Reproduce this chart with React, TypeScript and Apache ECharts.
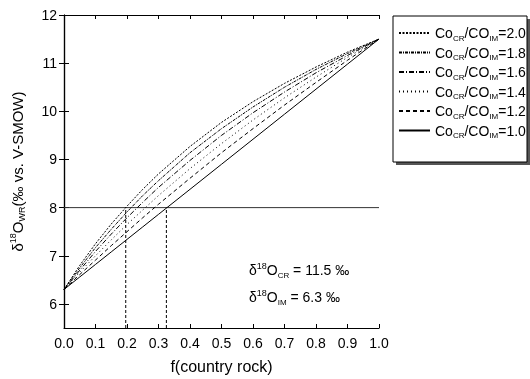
import React, { useEffect, useRef } from "react";
import * as echarts from "echarts";

// f (country rock) sample positions
const fValues = [0, 0.05, 0.1, 0.15, 0.2, 0.25, 0.3, 0.4, 0.5, 0.6, 0.7, 0.8, 0.9, 1.0];
// δ18O_WR
const ratio20 = [6.3, 6.8, 7.25, 7.66, 8.03, 8.38, 8.7, 9.27, 9.77, 10.2, 10.58, 10.92, 11.23, 11.5];
const ratio18 = [6.3, 6.75, 7.17, 7.55, 7.91, 8.25, 8.56, 9.14, 9.64, 10.09, 10.5, 10.87, 11.2, 11.5];
const ratio16 = [6.3, 6.7, 7.09, 7.45, 7.79, 8.11, 8.42, 8.98, 9.5, 9.97, 10.4, 10.8, 11.16, 11.5];
const ratio14 = [6.3, 6.66, 7.0, 7.33, 7.65, 7.95, 8.25, 8.81, 9.33, 9.82, 10.28, 10.71, 11.12, 11.5];
const ratio12 = [6.3, 6.61, 6.91, 7.21, 7.5, 7.79, 8.07, 8.61, 9.14, 9.64, 10.13, 10.6, 11.06, 11.5];
const ratio10 = [6.3, 6.56, 6.82, 7.08, 7.34, 7.6, 7.86, 8.38, 8.9, 9.42, 9.94, 10.46, 10.98, 11.5];

const seriesNames = ["2.0", "1.8", "1.6", "1.4", "1.2", "1.0"];
const seriesValues = [ratio20, ratio18, ratio16, ratio14, ratio12, ratio10];
const seriesDash: any[] = [[2, 1.5], [3, 1, 1, 1], [5, 2, 1, 2], [1, 3], [4, 3], "solid"];

// reference lines
const refLevel = 8;
const refCross = [0.196, 0.325];
const yMin = 5.5;
const yMax = 12;
const yTicks = [6, 7, 8, 9, 10, 11, 12];

const FONT = "Liberation Sans, Arial, sans-serif";

export default function App() {
  const ref = useRef<HTMLDivElement>(null);
  useEffect(() => {
    if (!ref.current) return;
    const chart = echarts.init(ref.current, null, { renderer: "svg" });
    const lineSeries = seriesNames.map((n, i) => ({
      name: n,
      type: "line",
      data: fValues.map((f, j) => [f, seriesValues[i][j]]),
      symbol: "none",
      z: 3,
      lineStyle: { color: "#000", width: 1, type: seriesDash[i] },
      itemStyle: { color: "#000" },
    }));
    const refSeries = [
      {
        name: "hline",
        type: "line",
        data: [[0, refLevel], [1, refLevel]],
        symbol: "none",
        lineStyle: { color: "#333", width: 1 },
        z: 2,
      },
      ...refCross.map((x, i) => ({
        name: "vline" + i,
        type: "line",
        data: [[x, yMin], [x, refLevel]],
        symbol: "none",
        lineStyle: { color: "#000", width: 1, type: [3, 2] },
        z: 2,
      })),
    ];
    const richSmall = {
      a: { fontSize: 14, fontFamily: FONT, color: "#000", lineHeight: 18 },
      s: { fontSize: 8, fontFamily: FONT, color: "#000", lineHeight: 9, verticalAlign: "bottom" },
    };
    const richAnn = {
      a: { fontSize: 14, fontFamily: FONT, fill: "#000", color: "#000", lineHeight: 18 },
      sup: { fontSize: 9, fontFamily: FONT, fill: "#000", color: "#000", lineHeight: 10, verticalAlign: "top" },
      sub: { fontSize: 8, fontFamily: FONT, fill: "#000", color: "#000", lineHeight: 9, verticalAlign: "bottom" },
    };
    const axisCommon = {
      axisLine: { show: true, lineStyle: { color: "#000", width: 1.2 } },
      splitLine: { show: false },
    };
    chart.setOption({
      animation: false,
      grid: { left: 62, right: 151, top: 15, bottom: 49, containLabel: false },
      xAxis: [
        {
          type: "value",
          min: 0,
          max: 1,
          interval: 0.1,
          ...axisCommon,
          axisTick: { inside: true, length: 4, lineStyle: { color: "#000" } },
          axisLabel: {
            color: "#000",
            fontSize: 14,
            fontFamily: FONT,
            margin: 8,
            formatter: (v: number) => v.toFixed(1),
          },
          name: "f(country rock)",
          nameLocation: "middle",
          nameGap: 30,
          nameTextStyle: { color: "#000", fontSize: 16, fontFamily: FONT },
        },
        {
          type: "value",
          position: "top",
          min: 0,
          max: 1,
          interval: 0.1,
          ...axisCommon,
          axisTick: { inside: true, length: 4, lineStyle: { color: "#000" } },
          axisLabel: { show: false },
        },
      ],
      yAxis: [
        {
          type: "value",
          min: yMin,
          max: yMax,
          ...axisCommon,
          axisTick: { inside: true, length: 5, customValues: yTicks, lineStyle: { color: "#000" } },
          axisLabel: {
            color: "#000",
            fontSize: 14,
            fontFamily: FONT,
            margin: 7,
            customValues: yTicks,
          },
          name: "{a|δ}{sup|18}{a|O}{sub|WR}{a|(‰ vs. V-SMOW)}",
          nameLocation: "middle",
          nameRotate: 90,
          nameGap: 38,
          nameTextStyle: {
            color: "#000",
            fontSize: 15,
            fontFamily: FONT,
            rich: {
              a: { fontSize: 15, fontFamily: FONT, color: "#000", lineHeight: 18 },
              sup: { fontSize: 9, fontFamily: FONT, color: "#000", lineHeight: 10, verticalAlign: "top" },
              sub: { fontSize: 9, fontFamily: FONT, color: "#000", lineHeight: 9, verticalAlign: "bottom" },
            },
          },
        },
        {
          type: "value",
          position: "right",
          min: yMin,
          max: yMax,
          ...axisCommon,
          axisTick: { inside: true, length: 5, customValues: yTicks, lineStyle: { color: "#000" } },
          axisLabel: { show: false },
        },
      ],
      legend: {
        data: seriesNames,
        orient: "vertical",
        left: 398,
        top: 26,
        itemGap: 3.5,
        itemWidth: 31,
        itemHeight: 17.5,
        padding: 0,
        z: 10,
        itemStyle: { opacity: 0, borderWidth: 0 },
        formatter: (n: string) => `{a|Co}{s|CR}{a|/CO}{s|IM}{a|=${n}}`,
        textStyle: { color: "#000", fontSize: 14, fontFamily: FONT, padding: [0, 0, 0, 0], rich: richSmall },
      },
      graphic: [
        { type: "rect", z: 0, shape: { x: 396, y: 19, width: 134, height: 146 }, style: { fill: "#555" } },
        {
          type: "rect",
          z: 1,
          shape: { x: 393, y: 16, width: 134, height: 146 },
          style: { fill: "#fff", stroke: "#000", lineWidth: 1 },
        },
        {
          type: "text",
          z: 5,
          x: 249,
          y: 261,
          style: {
            text: "{a|δ}{sup|18}{a|O}{sub|CR}{a| = 11.5 ‰}",
            rich: richAnn,
            fill: "#000",
            font: `14px ${FONT}`,
          },
        },
        {
          type: "text",
          z: 5,
          x: 249,
          y: 288,
          style: {
            text: "{a|δ}{sup|18}{a|O}{sub|IM}{a| = 6.3 ‰}",
            rich: richAnn,
            fill: "#000",
            font: `14px ${FONT}`,
          },
        },
      ],
      series: [...lineSeries, ...refSeries],
    });
    return () => chart.dispose();
  }, []);
  return <div ref={ref} style={{ position: "fixed", left: 0, top: 0, width: 530, height: 379 }} />;
}
